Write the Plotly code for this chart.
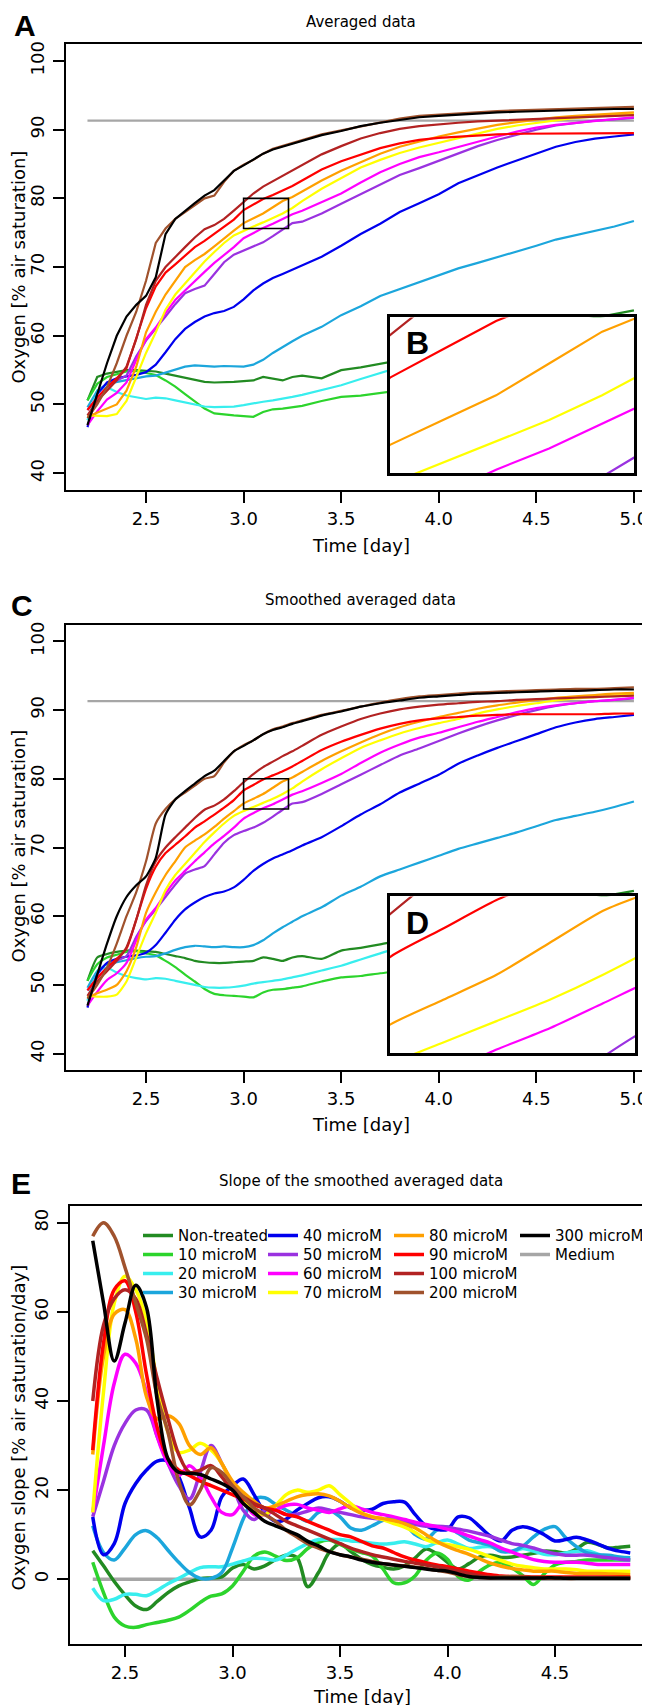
import plotly.graph_objects as go

W, H = 650, 1705

# ---------------- data: oxygen (panels A and C) ----------------
t_oxygen = [2.2, 2.25, 2.3, 2.35, 2.4, 2.45, 2.5, 2.55, 2.6, 2.65, 2.7, 2.75, 2.8, 2.85, 2.9, 2.95,
            3.0, 3.05, 3.1, 3.15, 3.2, 3.25, 3.3, 3.4, 3.5, 3.6, 3.7, 3.8, 3.9, 4.0, 4.1, 4.2, 4.3,
            4.4, 4.5, 4.6, 4.7, 4.8, 4.9, 5.0]
oxy_nontreated = [50.6, 54.0, 54.5, 54.8, 55.0, 55.0, 54.9, 54.8, 54.5, 54.2, 53.9, 53.5, 53.3, 53.2, 53.2, 53.3,
                  53.4, 53.5, 54.0, 53.8, 53.5, 54.0, 54.2, 53.8, 55.0, 55.4, 55.9, 56.5, 57.0, 57.5, 58.0, 58.6,
                  59.3, 60.0, 60.7, 61.4, 62.0, 62.6, 63.2, 63.7]
oxy_10 = [50.6, 53.0, 54.0, 54.4, 54.8, 54.9, 54.6, 54.3, 53.5, 52.6, 51.5, 50.5, 49.4, 48.7, 48.5, 48.4,
          48.3, 48.2, 48.9, 49.3, 49.4, 49.6, 49.8, 50.5, 51.1, 51.3, 51.7, 52.0, 52.4, 52.8, 53.2, 53.5,
          53.9, 54.2, 54.5, 54.9, 55.3, 55.7, 56.1, 56.5]
oxy_20 = [47.7, 52.0, 52.5, 51.8, 51.3, 51.0, 50.8, 51.0, 50.9, 50.6, 50.3, 50.0, 49.7, 49.6, 49.6, 49.7,
          49.9, 50.2, 50.4, 50.6, 50.8, 51.1, 51.4, 52.1, 52.8, 53.7, 54.6, 55.5, 56.3, 57.0, 57.7, 58.3,
          58.9, 59.5, 60.0, 60.5, 61.0, 61.4, 61.8, 62.2]
oxy_30 = [49.6, 52.0, 53.0, 53.3, 53.6, 53.9, 54.1, 54.2, 54.6, 55.1, 55.5, 55.7, 55.6, 55.5, 55.6, 55.5,
          55.5, 55.8, 56.5, 57.5, 58.4, 59.2, 60.0, 61.3, 63.0, 64.3, 65.8, 66.8, 67.8, 68.8, 69.8, 70.6,
          71.4, 72.2, 73.1, 74.0, 74.6, 75.2, 75.9, 76.7]
oxy_40 = [46.7, 51.5, 53.2, 53.8, 54.1, 54.3, 54.7, 55.8, 57.6, 59.5, 61.0, 62.0, 62.8, 63.3, 63.6, 64.2,
          65.3, 66.6, 67.6, 68.4, 69.0, 69.6, 70.3, 71.5, 73.1, 74.8, 76.3, 78.0, 79.3, 80.6, 82.2, 83.4,
          84.5, 85.5, 86.5, 87.5, 88.2, 88.7, 89.0, 89.3]
oxy_50 = [49.2, 51.0, 52.5, 53.5, 54.2, 57.0, 59.3, 61.0, 62.8, 64.6, 66.2, 66.8, 67.3, 69.0, 70.7, 71.8,
          72.4, 72.9, 73.6, 74.5, 75.5, 76.4, 76.6, 77.8, 79.2, 80.6, 82.0, 83.4, 84.4, 85.5, 86.6, 87.6,
          88.5, 89.3, 90.0, 90.6, 91.0, 91.3, 91.5, 91.7]
oxy_60 = [47.0, 49.0, 50.7, 51.7, 53.2, 56.5, 59.5, 61.2, 63.3, 65.2, 66.6, 68.0, 69.3, 70.6, 71.7, 72.9,
          74.2, 75.0, 75.7, 76.3, 77.0, 77.7, 78.2, 79.4, 80.7, 82.3, 83.8, 85.0, 86.0, 86.7, 87.5, 88.3,
          89.0, 89.7, 90.3, 90.7, 91.0, 91.3, 91.5, 91.8]
oxy_70 = [48.4, 48.3, 48.3, 48.6, 50.5, 54.0, 57.5, 60.5, 63.8, 66.0, 67.6, 69.2, 70.8, 72.2, 73.5, 74.6,
          75.3, 75.9, 76.5, 77.1, 77.8, 78.6, 79.6, 81.4, 83.0, 84.5, 85.6, 86.6, 87.4, 88.1, 88.7, 89.5,
          90.1, 90.6, 91.0, 91.4, 91.7, 91.9, 92.1, 92.3]
oxy_80 = [48.2, 48.8, 49.3, 50.0, 52.0, 55.5, 60.5, 63.5, 66.0, 68.0, 70.0, 71.0, 71.9, 73.0, 74.2, 75.3,
          76.4, 77.1, 77.8, 78.7, 79.6, 80.2, 81.0, 82.6, 84.0, 85.3, 86.5, 87.5, 88.3, 89.0, 89.6, 90.2,
          90.7, 91.1, 91.5, 91.8, 92.0, 92.2, 92.4, 92.5]
oxy_90 = [49.2, 51.0, 52.5, 53.8, 55.3, 59.5, 64.0, 67.2, 69.2, 70.4, 71.6, 72.9, 73.8, 74.8, 75.8, 76.9,
          78.3, 79.1, 79.9, 80.5, 81.1, 81.8, 82.6, 84.2, 85.4, 86.4, 87.3, 88.0, 88.5, 88.8, 89.0, 89.2,
          89.3, 89.4, 89.4, 89.4, 89.4, 89.4, 89.5, 89.5]
oxy_100 = [48.4, 50.5, 52.0, 53.5, 55.5, 59.5, 64.5, 68.0, 70.0, 71.5, 72.9, 74.3, 75.5, 76.1, 77.0, 78.2,
           79.5, 80.7, 81.7, 82.5, 83.3, 84.0, 84.8, 86.4, 87.6, 88.7, 89.5, 90.1, 90.5, 90.8, 91.0, 91.2,
           91.3, 91.5, 91.6, 91.7, 91.8, 91.9, 92.0, 92.1]
oxy_200 = [48.0, 50.0, 52.5, 56.0, 60.0, 63.5, 68.0, 73.5, 75.6, 77.0, 78.0, 79.0, 80.0, 80.4, 82.4, 84.0,
           84.9, 85.6, 86.5, 87.2, 87.6, 88.1, 88.5, 89.3, 89.9, 90.5, 91.1, 91.6, 92.0, 92.2, 92.4, 92.6,
           92.7, 92.8, 92.9, 93.0, 93.1, 93.1, 93.2, 93.3]
oxy_300 = [47.0, 51.5, 56.0, 60.0, 62.8, 64.5, 65.8, 68.5, 74.8, 77.0, 78.2, 79.3, 80.4, 81.2, 82.6, 84.0,
           84.8, 85.6, 86.5, 87.1, 87.5, 88.0, 88.4, 89.2, 89.8, 90.5, 91.0, 91.4, 91.8, 92.0, 92.2, 92.4,
           92.5, 92.6, 92.7, 92.8, 92.8, 92.9, 93.0, 93.0]
t_medium = [2.2, 5.0]
oxy_medium = [91.3, 91.3]

# ---------------- data: slope (panel E) ----------------
t_slope = [2.35, 2.40, 2.45, 2.50, 2.55, 2.60, 2.65, 2.70, 2.75, 2.80, 2.85, 2.90, 2.95, 3.00, 3.05, 3.10,
           3.15, 3.20, 3.25, 3.30, 3.35, 3.40, 3.45, 3.50, 3.55, 3.60, 3.65, 3.70, 3.75, 3.80, 3.85, 3.90,
           3.95, 4.00, 4.05, 4.10, 4.15, 4.20, 4.25, 4.30, 4.35, 4.40, 4.45, 4.50, 4.55, 4.60, 4.65, 4.70,
           4.75, 4.80, 4.85]
slope_nontreated = [6.4, 3.0, -0.5, -3.5, -6.0, -6.8, -5.0, -3.0, -1.5, -0.6, 0.1, 0.3, 0.5, 2.5, 3.3, 2.3,
                    3.0, 4.4, 5.4, 4.8, -1.7, 1.5, 6.0, 7.9, 6.2, 4.5, 3.3, 2.7, 2.3, 3.0, 4.8, 6.8,
                    5.7, 3.8, 2.3, 3.5, 5.0, 5.4, 4.9, 5.0, 5.4, 5.8, 6.3, 6.2, 5.9, 6.8, 8.3, 7.8,
                    7.0, 7.2, 7.4]
slope_10 = [3.8, -3.0, -8.5, -10.5, -10.8, -10.2, -9.7, -9.2, -8.5, -7.0, -5.2, -3.8, -3.3, -1.5, 1.8, 5.2,
            6.1, 5.2, 4.2, 4.8, 6.9, 8.3, 8.8, 7.8, 6.7, 6.0, 5.2, 2.3, -0.8, -0.8, 0.8, 4.2,
            5.9, 4.5, 0.6, -0.2, 1.8, 3.3, 3.7, 2.5, 0.8, -1.2, 1.2, 3.2, 3.8, 4.0, 4.3, 4.3,
            4.3, 4.3, 4.3]
slope_20 = [-2.0, -4.8, -4.5, -3.4, -3.4, -3.7, -2.5, -1.0, 0.2, 1.5, 2.6, 2.8, 2.8, 3.4, 4.1, 4.7,
            4.6, 4.3, 5.4, 6.8, 8.0, 8.9, 8.9, 8.9, 8.6, 8.4, 8.1, 7.9, 8.1, 8.4, 7.9, 7.3,
            8.2, 8.8, 7.9, 6.9, 7.2, 7.3, 6.4, 6.2, 6.9, 6.3, 5.6, 5.5, 5.9, 6.2, 6.4, 5.6,
            4.8, 4.5, 4.3]
slope_30 = [12.0, 6.0, 4.3, 7.0, 10.0, 10.9, 9.3, 6.5, 3.8, 1.5, 0.2, 0.2, 1.5, 7.0, 13.5, 18.0,
            18.3, 16.8, 15.5, 14.2, 13.0, 15.0, 15.5, 14.0, 11.5, 11.0, 12.0, 13.2, 13.8, 12.5, 10.0, 9.0,
            11.0, 11.7, 10.3, 8.8, 8.2, 7.6, 6.2, 6.3, 7.4, 9.5, 11.2, 11.8, 9.3, 7.3, 5.9, 5.5,
            5.4, 5.0, 4.8]
slope_40 = [14.0, 5.5, 8.0, 17.0, 21.5, 24.5, 26.5, 26.5, 23.0, 16.0, 9.5, 11.0, 18.5, 21.0, 22.5, 19.0,
            15.0, 13.0, 13.5, 15.5, 17.0, 18.3, 18.5, 17.5, 16.0, 15.5, 15.7, 17.0, 17.4, 17.3, 14.5, 12.0,
            11.2, 11.2, 14.0, 13.8, 11.8, 9.7, 8.6, 11.0, 11.8, 11.2, 10.0, 8.6, 8.9, 9.4, 8.8, 7.9,
            6.9, 6.3, 5.9]
slope_50 = [14.0, 22.0, 30.0, 35.0, 38.0, 38.0, 32.0, 26.0, 21.0, 18.0, 24.0, 30.0, 26.0, 21.0, 15.5, 13.4,
            15.5, 15.5, 14.5, 14.6, 15.3, 16.0, 15.5, 15.0, 14.5, 14.0, 13.7, 13.4, 13.1, 12.8, 12.3, 11.9,
            11.9, 11.7, 11.2, 10.8, 10.2, 9.6, 8.8, 8.0, 7.6, 7.0, 6.3, 5.7, 5.4, 5.4, 5.4, 5.1,
            4.8, 4.5, 4.3]
slope_60 = [15.0, 30.0, 44.0, 50.5, 48.5, 42.0, 32.0, 26.0, 23.3, 25.5, 23.0, 18.5, 15.0, 14.5, 17.0, 14.5,
            14.5, 15.5, 16.6, 16.8, 16.0, 15.5, 15.0, 15.8, 16.5, 15.8, 15.0, 14.5, 14.0, 13.4, 12.8, 12.3,
            11.8, 11.2, 10.6, 9.7, 8.9, 8.1, 7.0, 6.1, 5.2, 4.4, 4.0, 3.8, 3.8, 3.8, 3.6, 3.3,
            3.3, 3.3, 3.3]
slope_70 = [15.0, 42.0, 62.0, 68.0, 65.0, 58.0, 44.0, 33.0, 28.5, 29.0, 30.5, 29.0, 26.0, 21.0, 18.0, 15.5,
            14.5, 16.5, 19.0, 20.0, 19.5, 20.0, 21.0, 19.0, 17.0, 15.0, 14.0, 13.4, 12.5, 11.7, 10.5, 8.9,
            8.2, 7.8, 7.3, 6.7, 5.9, 5.0, 4.2, 3.4, 2.9, 2.6, 2.3, 2.3, 2.3, 2.1, 1.8, 1.8,
            1.8, 1.8, 1.8]
slope_80 = [28.0, 50.0, 59.5, 60.5, 54.0, 41.0, 36.0, 36.7, 35.0, 30.0, 28.0, 29.5, 26.0, 22.0, 19.5, 17.5,
            16.0, 16.5, 17.5, 18.5, 19.0, 19.2, 18.7, 17.5, 16.0, 14.8, 14.0, 13.6, 13.2, 12.5, 11.5, 10.0,
            8.5, 7.3, 6.4, 5.6, 4.6, 3.6, 2.9, 2.4, 2.1, 1.8, 1.8, 1.8, 1.5, 1.3, 1.3, 1.3,
            1.2, 1.1, 1.0]
slope_90 = [29.0, 53.0, 65.0, 67.0, 60.0, 46.0, 34.0, 27.0, 24.5, 23.3, 22.0, 21.0, 20.0, 19.0, 18.0, 16.7,
            16.0, 15.5, 14.5, 14.0, 13.0, 12.0, 11.0, 10.0, 9.5, 8.5, 7.5, 7.0, 6.0, 5.0, 4.3, 3.7,
            3.2, 2.8, 2.3, 1.8, 1.4, 1.0, 0.7, 0.6, 0.6, 0.5, 0.5, 0.5, 0.5, 0.5, 0.5, 0.5,
            0.5, 0.5, 0.5]
slope_100 = [40.0, 57.0, 63.0, 65.0, 63.0, 55.0, 45.0, 36.0, 28.0, 24.0, 24.5, 25.5, 23.0, 20.0, 18.5, 17.0,
             16.0, 14.5, 13.0, 12.0, 11.0, 10.0, 9.0, 8.0, 7.0, 6.2, 5.5, 5.0, 4.5, 4.0, 3.6, 3.2,
             2.8, 2.3, 1.8, 1.3, 0.8, 0.5, 0.4, 0.3, 0.3, 0.3, 0.3, 0.3, 0.3, 0.3, 0.3, 0.3,
             0.3, 0.3, 0.3]
slope_200 = [77.0, 80.0, 77.0, 70.0, 62.0, 54.0, 41.0, 33.0, 22.0, 16.7, 20.0, 25.0, 24.0, 21.0, 18.5, 16.0,
             14.5, 13.0, 11.0, 9.5, 8.0, 7.0, 6.2, 5.5, 5.0, 4.5, 4.0, 3.5, 3.2, 3.0, 2.7, 2.4,
             2.0, 1.6, 1.0, 0.6, 0.4, 0.3, 0.5, 0.6, 0.5, 0.4, 0.3, 0.3, 0.2, 0.2, 0.3, 0.3,
             0.3, 0.3, 0.3]
slope_300 = [76.0, 62.0, 49.0, 57.5, 66.0, 61.0, 40.0, 27.0, 24.0, 23.8, 23.5, 22.5, 21.5, 20.0, 17.0, 15.0,
             13.0, 12.0, 11.0, 10.0, 8.5, 7.5, 6.2, 5.5, 5.0, 4.3, 3.8, 3.5, 3.2, 2.9, 2.6, 2.3,
             2.0, 1.8, 1.2, 0.6, 0.4, 0.3, 0.3, 0.3, 0.3, 0.3, 0.3, 0.3, 0.2, 0.2, 0.2, 0.2,
             0.2, 0.2, 0.2]
t_slope_medium = [2.35, 4.85]
slope_medium = [0.0, 0.0]

# zoomed window shown in insets B and D
zoom_x = [3.0, 3.23]
zoom_y = [75.6, 80.0]

series_names = ["Non-treated", "10 microM", "20 microM", "30 microM", "40 microM", "50 microM",
                "60 microM", "70 microM", "80 microM", "90 microM", "100 microM", "200 microM",
                "300 microM"]
series_colors = ["#228B22", "#2CD42C", "#38EEEE", "#1CA6DC", "#0000EE", "#9A32E0", "#FF00FF",
                 "#FFFF00", "#FFA000", "#FF0000", "#B22222", "#A0522D", "#000000"]
medium_color = "#A6A6A6"

oxy_series = [oxy_nontreated, oxy_10, oxy_20, oxy_30, oxy_40, oxy_50, oxy_60, oxy_70, oxy_80,
              oxy_90, oxy_100, oxy_200, oxy_300]
slope_series = [slope_nontreated, slope_10, slope_20, slope_30, slope_40, slope_50, slope_60,
                slope_70, slope_80, slope_90, slope_100, slope_200, slope_300]

# legend layout: 4 columns x 4 rows (column-major order as in the original)
legend_cols_px = [170, 295, 421, 547]
legend_rows_px = [1227, 1246, 1265, 1284]

FONT = "DejaVu Sans"


def px(xp):
    return xp / W


def py(yp):
    return 1 - yp / H


fig = go.Figure()

# ---------- panels A / C and insets B / D ----------
for (xa, ya, shape) in [("x", "y", "linear"), ("x2", "y2", "linear"),
                        ("x3", "y3", "spline"), ("x4", "y4", "spline")]:
    fig.add_trace(go.Scatter(x=t_medium, y=oxy_medium, mode="lines", xaxis=xa, yaxis=ya,
                             line=dict(color=medium_color, width=2.2), showlegend=False,
                             hoverinfo="skip"))
    for name, col, vals in zip(series_names, series_colors, oxy_series):
        fig.add_trace(go.Scatter(x=t_oxygen, y=vals, mode="lines", xaxis=xa, yaxis=ya,
                                 line=dict(color=col, width=2.2, shape=shape,
                                           smoothing=0.6 if shape == "spline" else None),
                                 showlegend=False, name=name))

# ---------- panel E (slope) ----------
fig.add_trace(go.Scatter(x=t_slope_medium, y=slope_medium, mode="lines", xaxis="x5", yaxis="y5",
                         line=dict(color=medium_color, width=3.5), name="Medium",
                         legend="legend14", showlegend=True))
for i, (name, col, vals) in enumerate(zip(series_names, series_colors, slope_series)):
    lg = "legend" if i == 0 else "legend%d" % (i + 1)
    fig.add_trace(go.Scatter(x=t_slope, y=vals, mode="lines", xaxis="x5", yaxis="y5",
                             line=dict(color=col, width=3.5, shape="spline", smoothing=1.0),
                             name=name, legend=lg, showlegend=True))

legend_layouts = {}
for i in range(14):
    col_i, row_i = divmod(i, 4)
    key = "legend" if i == 0 else "legend%d" % (i + 1)
    legend_layouts[key] = dict(
        x=px(legend_cols_px[col_i] - 40), xanchor="left",
        y=py(legend_rows_px[row_i]), yanchor="middle",
        bgcolor="rgba(0,0,0,0)", borderwidth=0,
        font=dict(family=FONT, size=15, color="black"),
        itemwidth=30, tracegroupgap=0)

# ---------- axes ----------
tickfont = dict(family=FONT, size=18, color="black")
common_x = dict(showline=True, mirror=True, linecolor="black", linewidth=2, ticks="outside",
                ticklen=11, tickwidth=2, tickcolor="black", showgrid=False, zeroline=False,
                tickfont=tickfont, tickformat=".1f")
common_y = dict(showline=True, mirror=True, linecolor="black", linewidth=2, ticks="outside",
                ticklen=11, tickwidth=2, tickcolor="black", showgrid=False, zeroline=False,
                tickfont=tickfont, tickangle=-90, ticklabelstandoff=2)
inset_ax = dict(showline=True, mirror=True, linecolor="black", linewidth=2.5, ticks="",
                showticklabels=False, showgrid=False, zeroline=False)

layout = dict(
    width=W, height=H, margin=dict(l=0, r=0, t=0, b=0),
    paper_bgcolor="white", plot_bgcolor="white",
    xaxis=dict(common_x, domain=[px(58), px(647)], range=[2.09, 5.108], anchor="y",
               tickvals=[2.5, 3.0, 3.5, 4.0, 4.5, 5.0]),
    yaxis=dict(common_y, domain=[py(480), py(33)], range=[37.53, 102.47], anchor="x",
               tickvals=[40, 50, 60, 70, 80, 90, 100]),
    xaxis2=dict(inset_ax, domain=[px(382), px(626)], range=zoom_x, anchor="y2"),
    yaxis2=dict(inset_ax, domain=[py(463), py(307)], range=zoom_y, anchor="x2"),
    xaxis3=dict(common_x, domain=[px(58), px(647)], range=[2.09, 5.108], anchor="y3",
                tickvals=[2.5, 3.0, 3.5, 4.0, 4.5, 5.0]),
    yaxis3=dict(common_y, domain=[py(1061), py(615)], range=[37.6, 102.4], anchor="x3",
                tickvals=[40, 50, 60, 70, 80, 90, 100]),
    xaxis4=dict(inset_ax, domain=[px(382), px(627)], range=zoom_x, anchor="y4"),
    yaxis4=dict(inset_ax, domain=[py(1044), py(887)], range=zoom_y, anchor="x4"),
    xaxis5=dict(common_x, domain=[px(62), px(645)], range=[2.2442, 4.9558], anchor="y5",
                tickvals=[2.5, 3.0, 3.5, 4.0, 4.5]),
    yaxis5=dict(common_y, domain=[py(1636), py(1197)], range=[-14.57, 83.81], anchor="x5",
                tickvals=[0, 20, 40, 60, 80], tickformat="d"),
    showlegend=True,
)
layout.update(legend_layouts)
fig.update_layout(**layout)

# ---------- shapes: white masks under insets, zoom rectangles ----------
for xr, yr in [("x2", "y2"), ("x4", "y4")]:
    fig.add_shape(type="rect", xref=xr, yref=yr, x0=zoom_x[0], x1=zoom_x[1], y0=zoom_y[0],
                  y1=zoom_y[1], fillcolor="white", line=dict(width=0), layer="below")
for xr, yr in [("x", "y"), ("x3", "y3")]:
    fig.add_shape(type="rect", xref=xr, yref=yr, x0=zoom_x[0], x1=zoom_x[1], y0=zoom_y[0],
                  y1=zoom_y[1], line=dict(color="black", width=1.6), fillcolor="rgba(0,0,0,0)",
                  layer="above")


# ---------- text ----------
def ann(text, x, y, size, bold=False, family=FONT, angle=0):
    fig.add_annotation(text="<b>%s</b>" % text if bold else text, x=px(x), y=py(y),
                       xref="paper", yref="paper", showarrow=False, xanchor="center",
                       yanchor="middle", textangle=angle,
                       font=dict(family=family, size=size, color="black"))


LETTER = "Liberation Sans"
ann("A", 17, 15, 30, bold=True, family=LETTER)
ann("B", 409, 333, 32, bold=True, family=LETTER)
ann("C", 14, 596, 30, bold=True, family=LETTER)
ann("D", 409, 914, 32, bold=True, family=LETTER)
ann("E", 13, 1175, 30, bold=True, family=LETTER)

ann("Averaged data", 353, 11, 15)
ann("Smoothed averaged data", 352, 590, 15)
ann("Slope of the smoothed averaged data", 353, 1172, 15)

ann("Time [day]", 353, 535, 18)
ann("Time [day]", 353, 1115, 18)
ann("Time [day]", 354, 1688, 18)

ann("Oxygen [% air saturation]", 11, 257, 18, angle=-90)
ann("Oxygen [% air saturation]", 11, 837, 18, angle=-90)
ann("Oxygen slope [% air saturation/day]", 11, 1419, 18, angle=-90)

fig.write_html("out.html")
